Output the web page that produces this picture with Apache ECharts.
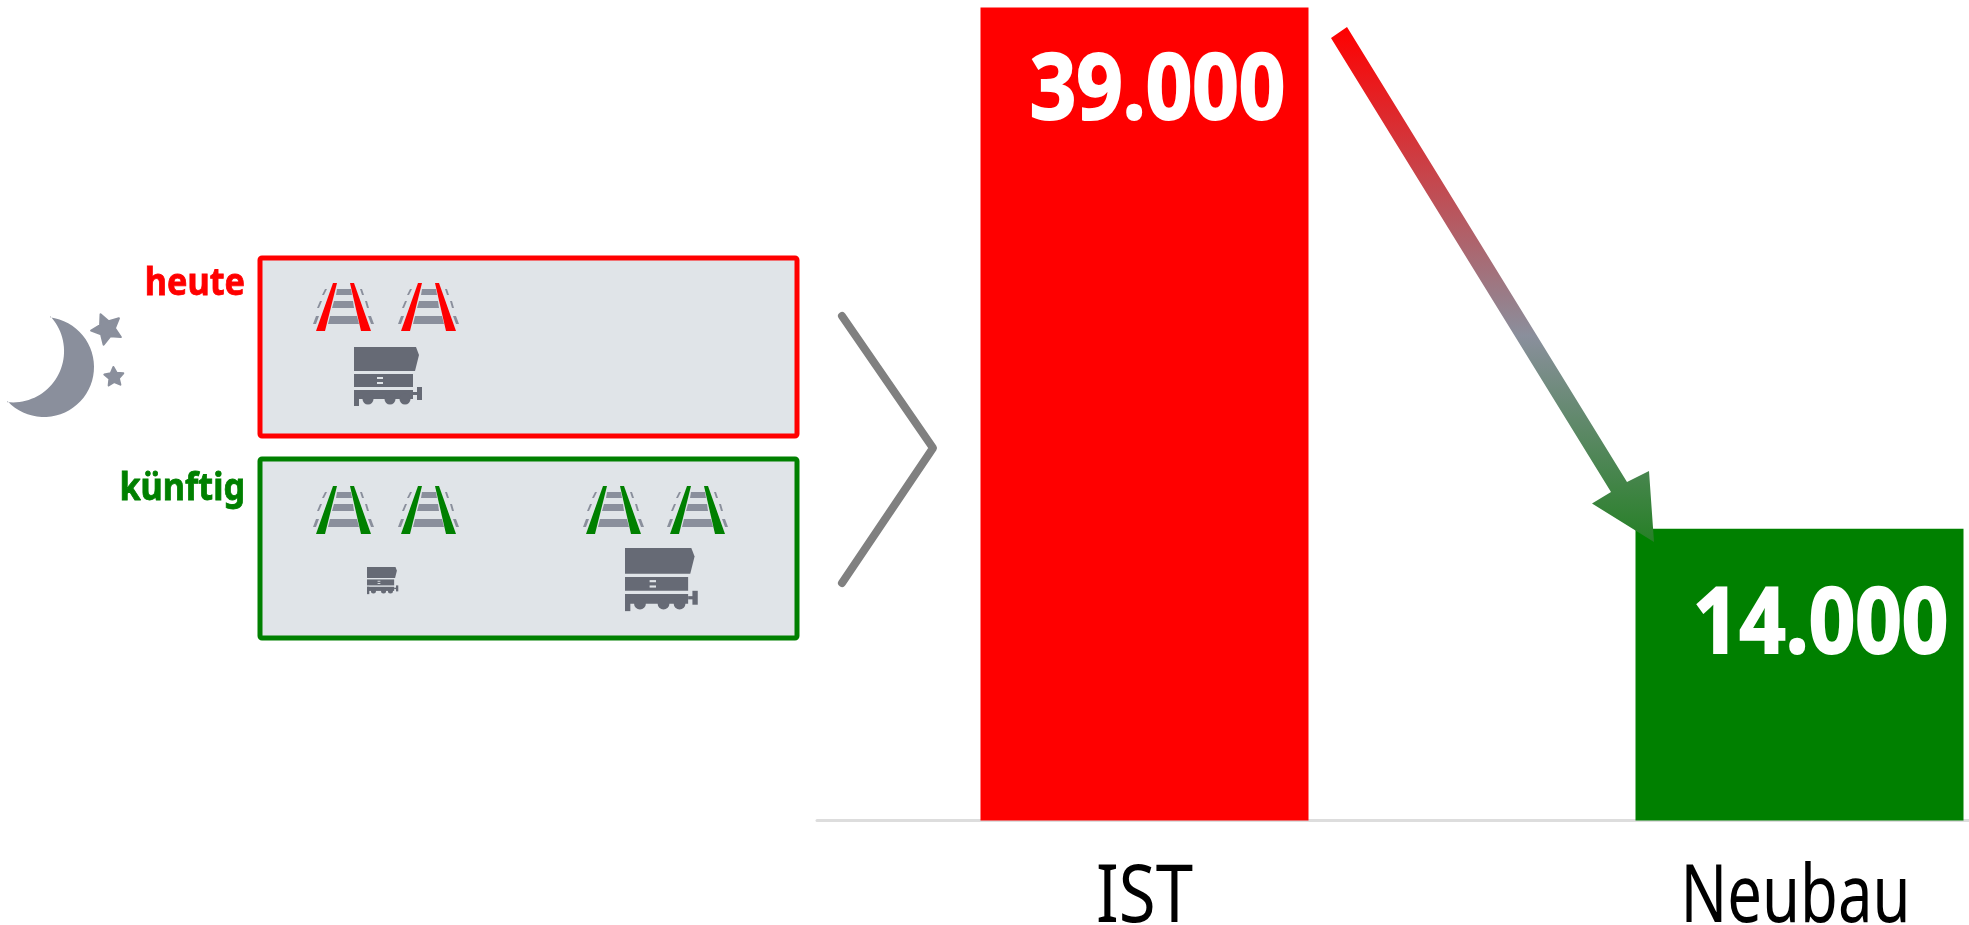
<!DOCTYPE html>
<html>
<head>
<meta charset="utf-8">
<title>Chart</title>
<style>
  html, body { margin: 0; padding: 0; background: #fff; }
  #chart { width: 1969px; height: 925px; }
</style>
<script src="https://cdn.jsdelivr.net/npm/echarts@6/dist/echarts.min.js"></script>
</head>
<body>
<div id="chart"></div>
<script>
var categories = ['IST', 'Neubau'];
var values = [39000, 14000];
var barColors = ['#ff0000', '#008000'];
var valueLabels = ['39.000', '14.000'];

var FONT = '"Noto Sans", sans-serif';
var GREY = '#8a8f9c';
var DARK = '#666a75';
var RED = '#ff0000';
var GREEN = '#008000';
var BOX_FILL = '#e0e4e8';

// track icon, units are px relative to its top left corner
function track(x, y, color) {
  var poly = function (points, fill) {
    return { type: 'polygon', shape: { points: points }, style: { fill: fill } };
  };
  return {
    type: 'group',
    x: x,
    y: y,
    children: [
      poly([[24, 6], [38, 6], [39, 12], [23, 12]], GREY),
      poly([[21, 18], [40, 18], [41, 25], [19, 25]], GREY),
      poly([[17, 33], [44, 33], [46, 41], [15, 41]], GREY),
      poly([[12, 6], [14, 6], [11, 12], [9, 12]], GREY),
      poly([[7, 18], [9, 18], [6, 25], [4, 25]], GREY),
      poly([[3, 33], [6, 33], [3, 41], [0, 41]], GREY),
      poly([[47, 6], [49, 6], [51, 12], [49, 12]], GREY),
      poly([[52, 18], [54, 18], [56, 25], [54, 25]], GREY),
      poly([[55, 33], [58, 33], [61, 41], [58, 41]], GREY),
      poly([[20, 0], [24, 0], [12, 48], [3, 48]], color),
      poly([[37, 0], [41, 0], [58, 48], [48, 48]], color)
    ]
  };
}

// wagon icon, drawn 68 wide at scale 1
function wagon(x, y, s) {
  var rect = function (rx, ry, w, h, fill) {
    return { type: 'rect', shape: { x: rx, y: ry, width: w, height: h }, style: { fill: fill } };
  };
  var wheel = function (cx) {
    return { type: 'circle', shape: { cx: cx, cy: 52, r: 5.5 }, style: { fill: DARK } };
  };
  return {
    type: 'group',
    x: x,
    y: y,
    scaleX: s,
    scaleY: s,
    children: [
      { type: 'polygon', shape: { points: [[0, 0], [62, 0], [65, 8], [61, 24], [0, 24]] }, style: { fill: DARK } },
      rect(0, 27, 59, 13, DARK),
      rect(23, 30, 6, 2, BOX_FILL),
      rect(23, 35, 6, 2, BOX_FILL),
      rect(0, 43, 59, 9, DARK),
      rect(59, 45, 5, 3, DARK),
      rect(63, 40, 5, 13, DARK),
      rect(0, 43, 5, 16, DARK),
      wheel(14),
      wheel(36),
      wheel(51)
    ]
  };
}

function arcPoints(cx, cy, r, fromDeg, toDeg) {
  var pts = [];
  for (var i = 0; i <= 40; i++) {
    var a = (fromDeg + (toDeg - fromDeg) * i / 40) * Math.PI / 180;
    pts.push([cx + r * Math.cos(a), cy + r * Math.sin(a)]);
  }
  return pts;
}

function star(cx, cy, r, rot) {
  var pts = [];
  for (var i = 0; i < 10; i++) {
    var a = rot + i * Math.PI / 5;
    var d = i % 2 ? r * 0.5 : r;
    pts.push([cx + d * Math.cos(a), cy + d * Math.sin(a)]);
  }
  return {
    type: 'polygon',
    shape: { points: pts },
    style: { fill: GREY, stroke: GREY, lineWidth: 2, lineJoin: 'round' }
  };
}

function box(x, y, w, h, color) {
  return {
    type: 'rect',
    shape: { x: x, y: y, width: w, height: h, r: 2 },
    style: { fill: BOX_FILL, stroke: color, lineWidth: 5 }
  };
}

// the picture's typeface is condensed and none is installed, so squeeze the text
function squeezed(text, x, y, font, color, scale, align, extra) {
  return {
    type: 'text',
    x: x,
    y: y,
    scaleX: scale,
    z: 10,
    style: {
      text: text,
      fill: color,
      stroke: extra ? color : null,
      lineWidth: extra || 0,
      font: font + ' ' + FONT,
      textAlign: align,
      textVerticalAlign: 'middle'
    }
  };
}

var chart = echarts.init(document.getElementById('chart'), null, { renderer: 'canvas' });

chart.setOption({
  animation: false,
  backgroundColor: '#ffffff',
  // the second band runs past the right edge of the picture
  grid: { left: 817, top: 7.5, width: 1310, height: 813, outerBoundsMode: 'none' },
  xAxis: {
    type: 'category',
    data: categories,
    axisLine: { lineStyle: { color: '#dddddd', width: 3 } },
    axisTick: { show: false },
    axisLabel: { show: false }
  },
  yAxis: {
    type: 'value',
    min: 0,
    max: 39000,
    show: false
  },
  series: [{
    type: 'bar',
    barWidth: 328,
    data: values.map(function (v, i) {
      return { value: v, itemStyle: { color: barColors[i] } };
    })
  }]
});

var istX = chart.convertToPixel({ xAxisIndex: 0 }, categories[0]);
var neuX = chart.convertToPixel({ xAxisIndex: 0 }, categories[1]);
var istTop = chart.convertToPixel({ yAxisIndex: 0 }, values[0]);
var neuTop = chart.convertToPixel({ yAxisIndex: 0 }, values[1]);

chart.setOption({
  graphic: [
    // moon and stars
    {
      type: 'polygon',
      shape: { points: arcPoints(44, 367, 50, -83, 136.6).concat(arcPoints(12.85, 351.2, 51.2, 96.6, -43.5)) },
      style: { fill: GREY }
    },
    star(107, 329, 16, -0.73),
    star(114, 377, 10, -0.38),

    squeezed('heute', 245, 284, 'bold 38px', RED, 0.9, 'right', 0.8),
    squeezed('künftig', 245, 489, 'bold 38px', GREEN, 0.9, 'right', 0.8),

    box(260, 258, 537, 178, RED),
    track(313, 283, RED),
    track(398, 283, RED),
    wagon(354, 347, 1),

    box(260, 459, 537, 179, GREEN),
    track(313, 486, GREEN),
    track(398, 486, GREEN),
    track(583, 486, GREEN),
    track(667, 486, GREEN),
    wagon(367, 567, 0.46),
    wagon(625, 548, 1.07),

    // chevron between the boxes and the bars
    {
      type: 'polyline',
      shape: { points: [[842, 316], [933, 448], [842, 583]] },
      style: { stroke: '#808080', lineWidth: 8, lineCap: 'round', lineJoin: 'round', fill: null }
    },

    // gradient arrow, on top of the green bar
    {
      type: 'polygon',
      z: 10,
      shape: {
        points: [[1331, 38], [1347, 27], [1627, 482], [1649, 471], [1654, 542], [1592, 503.5], [1611, 492]]
      },
      style: {
        fill: new echarts.graphic.LinearGradient(0, 0, 0, 1, [
          { offset: 0, color: '#ff0000' },
          { offset: 0.6, color: GREY },
          { offset: 1, color: '#268026' }
        ])
      }
    },

    // value labels and category labels
    squeezed(valueLabels[0], istX + 13, istTop + 85, 'bold 92px', '#ffffff', 0.885, 'center', 2),
    squeezed(valueLabels[1], neuX + 21, neuTop + 98, 'bold 92px', '#ffffff', 0.885, 'center', 2),
    squeezed(categories[0], istX, 899, '80px', '#000000', 0.84, 'center'),
    squeezed(categories[1], neuX - 4, 899, '80px', '#000000', 0.77, 'center')
  ]
});
</script>
</body>
</html>
